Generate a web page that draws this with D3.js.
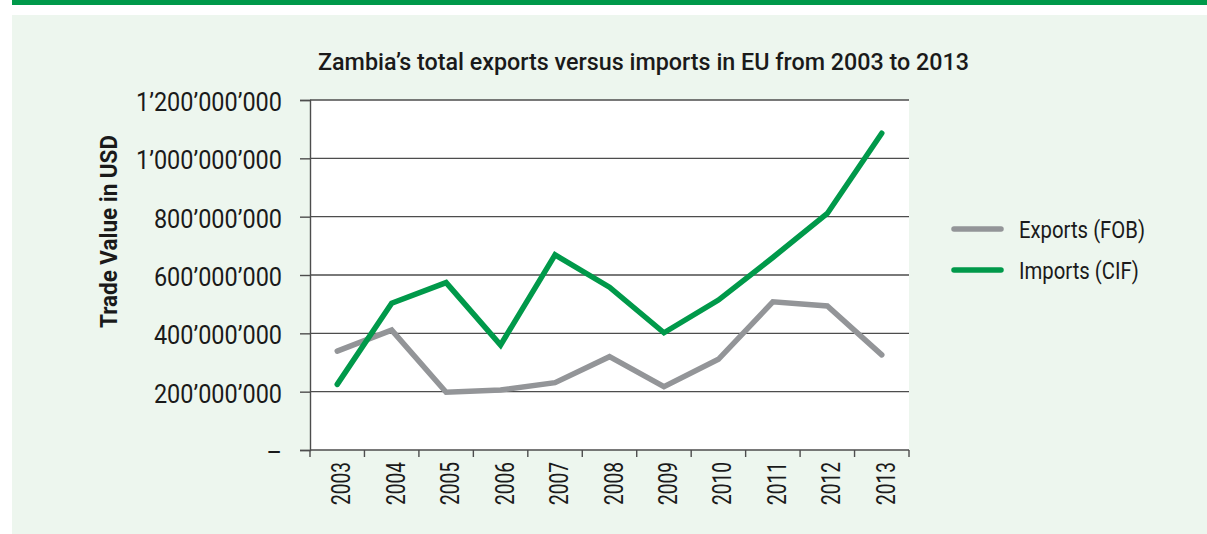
<!DOCTYPE html>
<html>
<head>
<meta charset="utf-8">
<script src="https://cdn.jsdelivr.net/npm/d3@7/dist/d3.min.js"></script>
<style>
  html, body { margin: 0; padding: 0; background: #ffffff; }
  svg { display: block; }
  text { font-family: Roboto, "Liberation Sans", sans-serif; fill: #1a1a1a; }
</style>
</head>
<body>
<svg id="chart" width="1207" height="534"></svg>
<script>
// Zambia trade with the EU, 2003-2013 (USD)
const years = ["2003","2004","2005","2006","2007","2008","2009","2010","2011","2012","2013"];
const exportsFOB = [339e6, 411e6, 198e6, 206e6, 231e6, 320e6, 217e6, 311e6, 508e6, 494e6, 326e6];
const importsCIF = [225e6, 503e6, 574e6, 360e6, 669e6, 558e6, 402e6, 514e6, 660e6, 811e6, 1086e6];
const yTicks = [0, 200e6, 400e6, 600e6, 800e6, 1000e6, 1200e6];
const seriesNames = ["Exports (FOB)", "Imports (CIF)"];
const seriesColors = ["#939598", "#00994a"];

const title = "Zambia\u2019s total exports versus imports in EU from 2003 to 2013";
const yTitle = "Trade Value in USD";

const svg = d3.select("#chart");
const W = 1207, H = 534;

// squeeze a text selection horizontally by a common factor (condensed look)
function condense(sel, factor) {
  sel.each(function () {
    const w = this.getComputedTextLength();
    d3.select(this).attr("textLength", w * factor).attr("lengthAdjust", "spacingAndGlyphs");
  });
}
function factorFor(sel, targetWidth) {
  let w = 0;
  sel.each(function () { w = Math.max(w, this.getComputedTextLength()); });
  return targetWidth / w;
}

// page frame: green header strip and pale panel
svg.append("rect").attr("x", 12).attr("y", 0).attr("width", W - 12).attr("height", 5).attr("fill", "#00994a");
svg.append("rect").attr("x", 12).attr("y", 15).attr("width", W - 12).attr("height", H - 15).attr("fill", "#edf6ee");

const plot = { left: 310, right: 909, top: 100, bottom: 450 };

const x = d3.scaleBand().domain(years).range([plot.left, plot.right]).paddingInner(0).paddingOuter(0);
const y = d3.scaleLinear().domain([0, 1200e6]).range([plot.bottom, plot.top]);

svg.append("rect")
  .attr("x", plot.left).attr("y", plot.top)
  .attr("width", plot.right - plot.left).attr("height", plot.bottom - plot.top)
  .attr("fill", "#ffffff");

// horizontal gridlines
svg.append("g").selectAll("line").data(yTicks.filter(d => d > 0)).join("line")
  .attr("x1", plot.left).attr("x2", plot.right)
  .attr("y1", d => y(d)).attr("y2", d => y(d))
  .attr("stroke", "#4d4d4d").attr("stroke-width", 1.4);

const fmt = v => v === 0 ? "\u2013" : d3.format(",")(v).replace(/,/g, "\u2019");

// y axis
const yAxis = svg.append("g")
  .attr("transform", `translate(${plot.left},0)`)
  .call(d3.axisLeft(y).tickValues(yTicks).tickFormat(fmt).tickSize(10).tickPadding(18));
yAxis.select(".domain").attr("stroke", "#4d4d4d").attr("stroke-width", 1.4);
yAxis.selectAll(".tick line").attr("stroke", "#4d4d4d").attr("stroke-width", 1.4);
const yLabels = yAxis.selectAll(".tick text")
  .style("font-family", "Roboto, 'Liberation Sans', sans-serif")
  .style("font-size", "26px").style("font-weight", "400").attr("fill", "#1a1a1a").attr("dy", "0.4em");
condense(yLabels, factorFor(yLabels, 146));

// x axis: ticks sit on category boundaries
const xAxis = svg.append("g").attr("transform", `translate(0,${plot.bottom})`);
xAxis.append("line")
  .attr("x1", plot.left).attr("x2", plot.right).attr("y1", 0).attr("y2", 0)
  .attr("stroke", "#4d4d4d").attr("stroke-width", 1.4);
const bounds = years.map(d => x(d)).concat([x(years[years.length - 1]) + x.bandwidth()]);
xAxis.selectAll("line.tk").data(bounds).join("line").attr("class", "tk")
  .attr("x1", d => d).attr("x2", d => d).attr("y1", 0).attr("y2", 7)
  .attr("stroke", "#4d4d4d").attr("stroke-width", 1.4);
const xLabels = xAxis.selectAll("text").data(years).join("text")
  .attr("transform", d => `translate(${x(d) + x.bandwidth() / 2 + 13},12) rotate(-90)`)
  .attr("text-anchor", "end")
  .style("font-size", "25px").style("font-weight", "400")
  .text(d => d);
condense(xLabels, factorFor(xLabels, 43));

// series lines
const line = d3.line().x((d, i) => x(years[i]) + x.bandwidth() / 2).y(d => y(d));
[exportsFOB, importsCIF].forEach((vals, k) => {
  svg.append("path").datum(vals)
    .attr("d", line)
    .attr("fill", "none")
    .attr("stroke", seriesColors[k])
    .attr("stroke-width", 5.5)
    .attr("stroke-linejoin", "miter")
    .attr("stroke-linecap", "round");
});

// title
const titleText = svg.append("text")
  .attr("x", 643.5).attr("y", 70)
  .attr("text-anchor", "middle")
  .style("font-size", "24px").style("font-weight", "500")
  .text(title);
condense(titleText, factorFor(titleText, 651));

// y axis title
const yTitleText = svg.append("text")
  .attr("transform", `translate(117,231.5) rotate(-90)`)
  .attr("text-anchor", "middle")
  .style("font-size", "24px").style("font-weight", "bold")
  .text(yTitle);
condense(yTitleText, factorFor(yTitleText, 193));

// legend
const legend = svg.append("g");
seriesNames.forEach((name, k) => {
  const ly = 229 + k * 41;
  legend.append("line")
    .attr("x1", 954).attr("x2", 1001).attr("y1", ly).attr("y2", ly)
    .attr("stroke", seriesColors[k]).attr("stroke-width", 5.5).attr("stroke-linecap", "round");
  legend.append("text")
    .attr("x", 1019).attr("y", ly).attr("dy", "0.36em")
    .style("font-size", "24px").style("font-weight", "400")
    .text(name);
});
const legendLabels = legend.selectAll("text");
condense(legendLabels, factorFor(legendLabels, 126));
</script>
</body>
</html>
